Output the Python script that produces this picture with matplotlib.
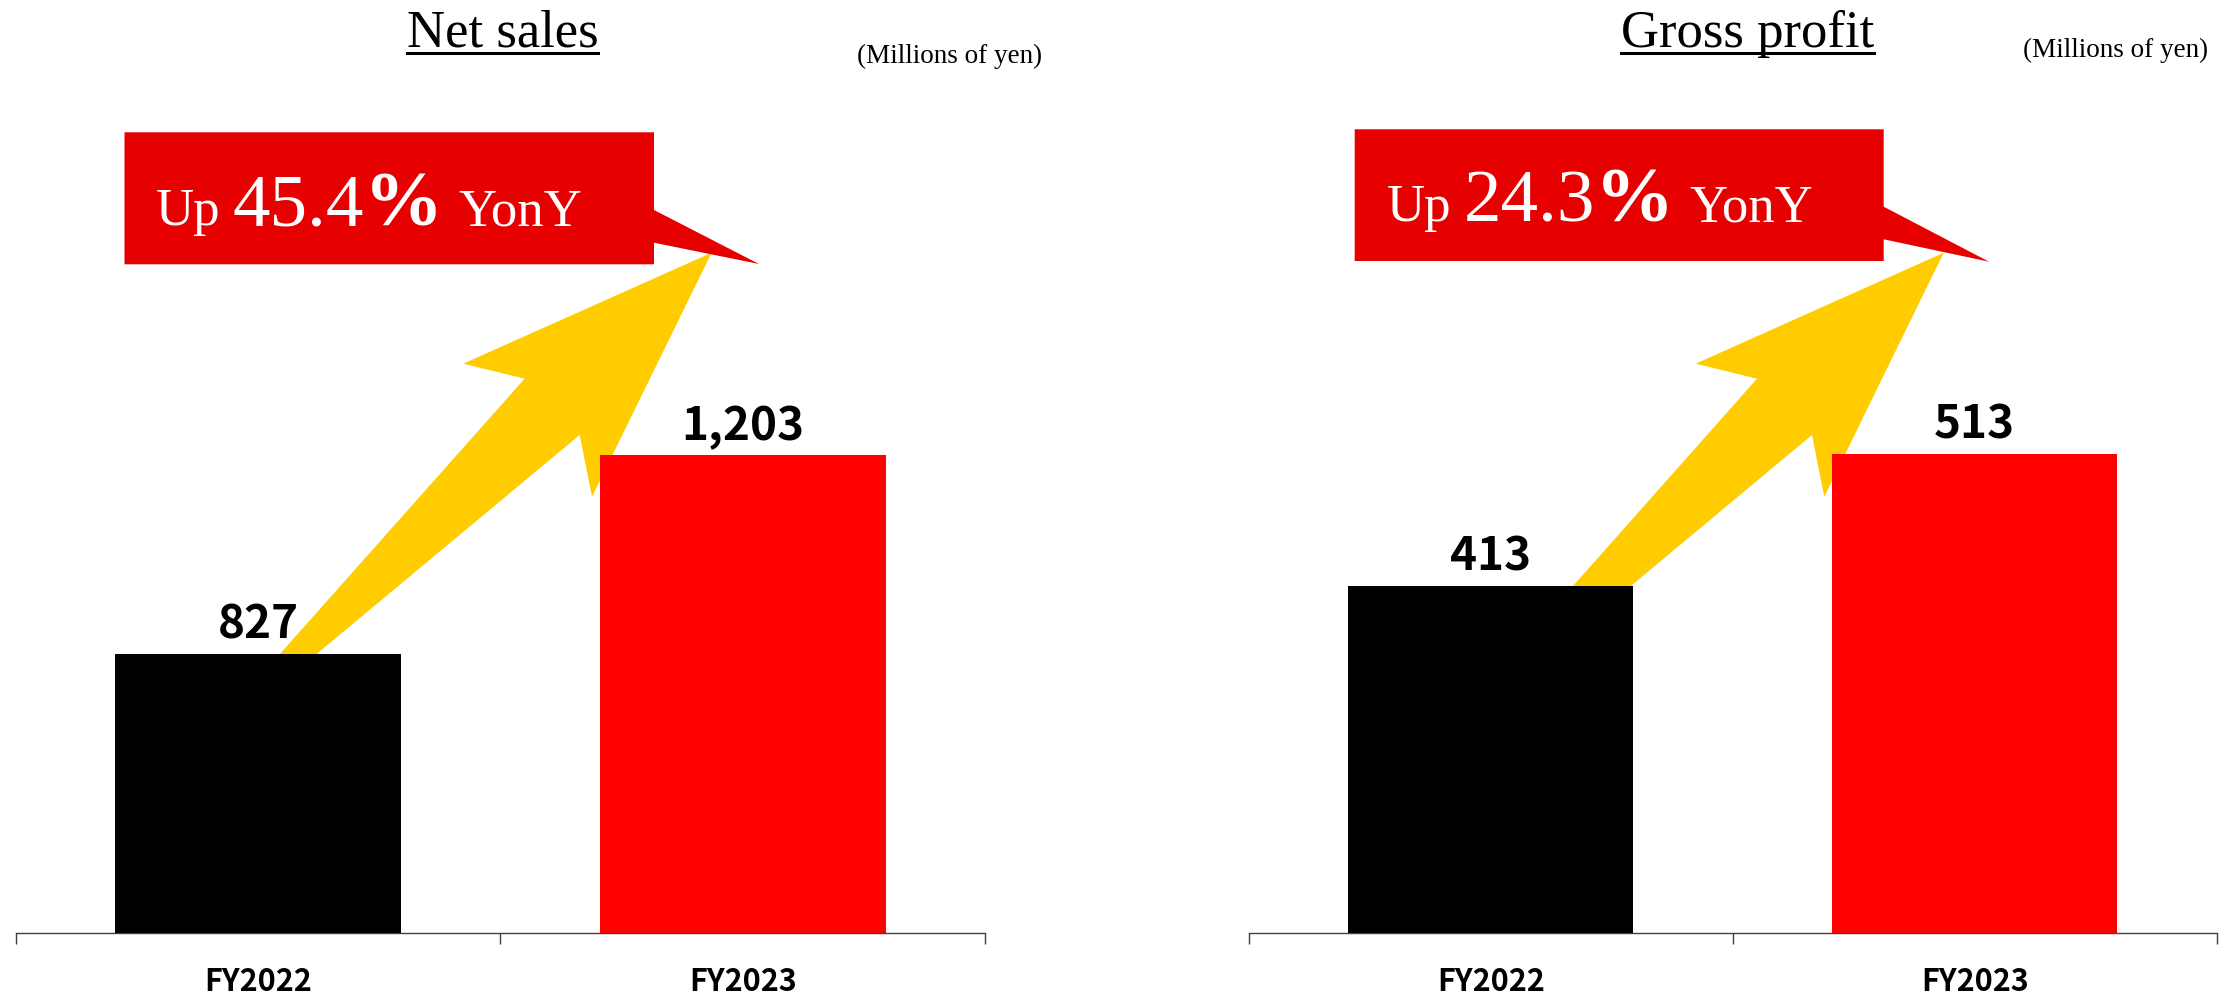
import matplotlib
matplotlib.use('Agg')
import matplotlib.pyplot as plt
from matplotlib.patches import Polygon
from matplotlib.lines import Line2D

# data
years = ['FY2022', 'FY2023']
net_sales = [827, 1203]
gross_profit = [413, 513]
titles = ['Net sales', 'Gross profit']
growth = ['45.4', '24.3']
unit = '(Millions of yen)'

bar_colors = ['#000000', '#FF0000']
box_red = '#E60000'
arrow_yellow = '#FFCC00'
sans = ['Noto Sans CJK JP', 'DejaVu Sans']
serif = ['Liberation Serif', 'DejaVu Serif']

W, H = 2231, 994
fig = plt.figure(figsize=(W / 100, H / 100), dpi=100)


def px(x, y):
    # pixel (from top-left) -> figure fraction
    return (x / W, 1 - y / H)


# layout for each panel (pixels in the 2231x994 frame)
panels = [
    dict(values=net_sales, rect=(15.6, 969.4), ylim=(300, 2063),
         title_x=502.5, unit_x=1042, unit_y=63,
         box=(124.5, 132.3, 654, 264.3), tail=(210, 242.7, 759, 264),
         text_x=156, text_y=225),
    dict(values=gross_profit, rect=(1248.7, 968), ylim=(150, 857),
         title_x=1747.3, unit_x=2208, unit_y=57,
         box=(1354.7, 129.3, 1883.7, 261), tail=(206.7, 239.3, 1989, 261.7),
         text_x=1387, text_y=221.5),
]

# growth arrow shape, in axes fraction (tail hidden behind first bar)
arrow_shape = [(0.1648, 0.1730), (0.5251, 0.5941), (0.4618, 0.6102),
               (0.7180, 0.7291), (0.5946, 0.4676), (0.5819, 0.5338)]

renderer = fig.canvas.get_renderer()

for i, p in enumerate(panels):
    left, width = p['rect']
    ax = fig.add_axes([left / W, 61 / H, width / W, 933 / H])
    ax.set_xlim(-0.5, 1.5)
    ax.set_ylim(*p['ylim'])

    ax.bar(range(len(years)), p['values'], width=0.59, color=bar_colors, zorder=3)
    for x, v in enumerate(p['values']):
        ax.annotate(f'{v:,}', (x, v), xytext=(0, 11), textcoords='offset points',
                    ha='center', va='baseline', fontsize=33, fontweight='bold',
                    family=sans, zorder=4)

    ax.add_patch(Polygon(arrow_shape, closed=True, transform=ax.transAxes,
                         facecolor=arrow_yellow, edgecolor='none', zorder=2,
                         clip_on=False))

    # axis styling
    for s in ['top', 'right', 'left']:
        ax.spines[s].set_visible(False)
    ax.spines['bottom'].set_color('#404040')
    ax.spines['bottom'].set_linewidth(1.0)
    ax.set_yticks([])
    ax.set_xticks(range(len(years)))
    ax.set_xticklabels(years, fontsize=22, fontweight='bold', family=sans)
    ax.set_xticks([-0.5, 0.5, 1.5], minor=True)
    ax.tick_params(axis='x', which='major', length=0, pad=24)
    ax.tick_params(axis='x', which='minor', length=8, width=1.0,
                   color='#404040', direction='out')

    # title with underline
    t = fig.text(*px(p['title_x'], 46.7), titles[i], ha='center', va='baseline',
                 fontsize=38, family=serif)
    bb = t.get_window_extent(renderer)
    fig.add_artist(Line2D([bb.x0 / W, bb.x1 / W], [1 - 52.5 / H] * 2,
                          transform=fig.transFigure, color='black', lw=2.2))

    fig.text(*px(p['unit_x'], p['unit_y']), unit, ha='right', va='baseline',
             fontsize=19.5, family=serif)

    # callout box
    x0, y0, x1, y1 = p['box']
    ta, tb, tx, ty = p['tail']
    pts = [(x0, y0), (x1, y0), (x1, ta), (tx, ty), (x1, tb), (x1, y1), (x0, y1)]
    fig.add_artist(Polygon([px(*q) for q in pts], closed=True,
                           transform=fig.transFigure, facecolor=box_red,
                           edgecolor='none', zorder=5))

    # "Up xx.x% YonY" built from pieces
    pieces = [('Up', 38, serif, 'normal', 12), (growth[i], 54, serif, 'normal', 0),
              ('%', 57, serif, 'bold', 15), ('YonY', 38, serif, 'normal', 0)]
    x = p['text_x']
    for s, size, fam, wt, gap in pieces:
        txt = fig.text(*px(x, p['text_y']), s, ha='left', va='baseline',
                       fontsize=size, family=fam, fontweight=wt,
                       color='white', zorder=6)
        ext = txt.get_window_extent(renderer)
        x = ext.x1 + gap

fig.savefig('out.png', dpi=100, facecolor='white')
